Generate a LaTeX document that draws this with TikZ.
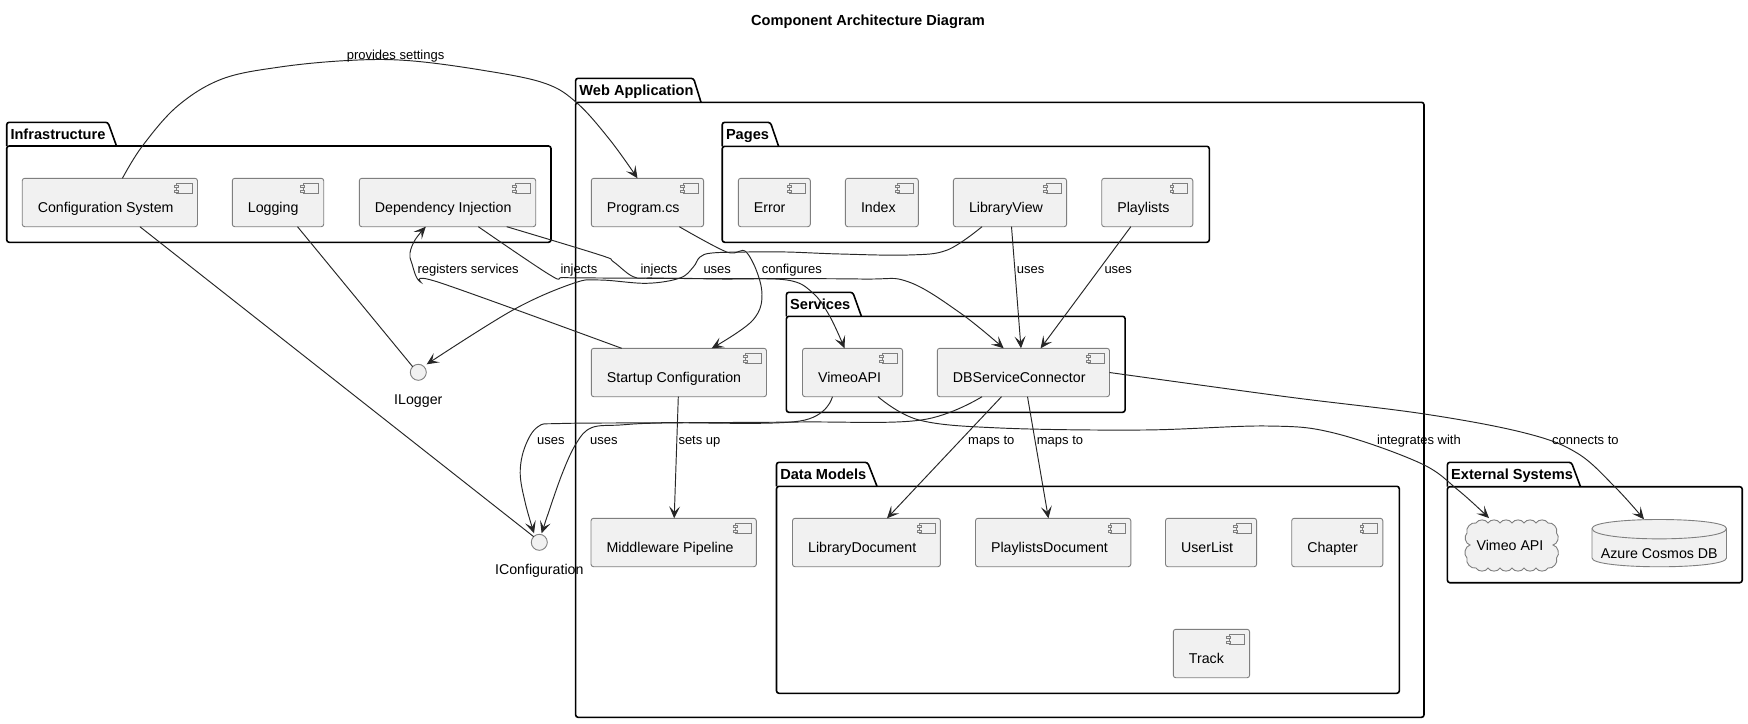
\documentclass[tikz,border=0pt]{standalone}
\usepackage{fontspec}
\setmainfont{Liberation Sans}
\usetikzlibrary{arrows.meta,calc}
\definecolor{boxfill}{HTML}{F1F1F1}
\definecolor{boxline}{HTML}{7F7F7F}
\definecolor{edgeline}{HTML}{262626}
\tikzset{
  compbox/.style={draw=boxline,fill=boxfill,line width=.9pt,rounded corners=2.5pt,inner sep=0pt,outer sep=0pt},
  iconpart/.style={draw=boxline,fill=boxfill,line width=.8pt},
  pkgbody/.style={draw=black,line width=1.6pt,rounded corners=2.5pt,inner sep=0pt,outer sep=0pt},
  pkgtab/.style={draw=black,line width=1.6pt,rounded corners=2.5pt},
  pkgtitle/.style={font=\fontsize{14.6}{18}\selectfont\bfseries,anchor=base west,inner sep=0pt},
  edgelabel/.style={font=\fontsize{13}{16}\selectfont,anchor=base west,inner sep=0pt},
  bare/.style={draw=edgeline,line width=.95pt},
  flow/.style={bare,-{Stealth[length=12pt,width=11pt,inset=5.5pt]}},
  iface/.style={circle,draw=boxline,fill=boxfill,line width=.9pt,minimum size=16pt,inner sep=0pt,outer sep=0pt},
  comptext/.style={font=\fontsize{14.2}{17}\selectfont},
  soft/.style={smooth,tension=0.6},
}
\newcommand{\compo}[6]{%
  \pgfmathsetmacro{\cw}{#4-#2}\pgfmathsetmacro{\ch}{#5-#3}%
  \pgfmathsetmacro{\cx}{(#4+#2)/2}\pgfmathsetmacro{\cy}{(#5+#3)/2}%
  \node[compbox,comptext,minimum width=\cw pt,minimum height=\ch pt] (#1) at (\cx,\cy)
    {\makebox[\cw pt][l]{\hspace{15.6pt}\raisebox{-10.2pt}[0pt][0pt]{#6}}};
  \draw[iconpart] ([shift={(-20.7pt,-5pt)}]#1.north east) rectangle ([shift={(-5pt,-15.4pt)}]#1.north east);
  \draw[iconpart] ([shift={(-22.9pt,-6.9pt)}]#1.north east) rectangle ([shift={(-19pt,-9.2pt)}]#1.north east);
  \draw[iconpart] ([shift={(-22.9pt,-11.7pt)}]#1.north east) rectangle ([shift={(-19pt,-14pt)}]#1.north east);
}
% name, left, tab top, tab top right, tab slant end, body top, right, bottom, title
\newcommand{\pkg}[9]{%
  \pgfmathsetmacro{\cw}{#7-#2}\pgfmathsetmacro{\ch}{#8-#6}%
  \pgfmathsetmacro{\cx}{(#7+#2)/2}\pgfmathsetmacro{\cy}{(#8+#6)/2}%
  \draw[pkgtab] (#2,#6) -- (#2,#3) -- (#4,#3) -- (#5,#6);
  \node[pkgbody,minimum width=\cw pt,minimum height=\ch pt] (#1) at (\cx,\cy) {};
  \pgfmathsetmacro{\tx}{#2+3.6}\pgfmathsetmacro{\ty}{#3+17.3}%
  \node[pkgtitle] (#1-title) at (\tx,\ty) {#9};
}
\begin{document}
\begin{tikzpicture}[x=1pt,y=-1pt]
\useasboundingbox (0,0) rectangle (1748,723);
\fill[white] (0,0) rectangle (1748,723);

\node[font=\fontsize{14.6}{18}\selectfont\bfseries,inner sep=0pt,anchor=base] (title) at (868,25) {Component Architecture Diagram};

% packages
\pkg{infra}{6.7}{122.3}{108}{116.5}{146}{551}{242.3}{Infrastructure}
\pkg{web}{575.6}{78.3}{693.6}{701}{102.3}{1424}{717.3}{Web Application}
\pkg{pages}{722.2}{122.3}{770.4}{778.6}{146.3}{1209.3}{242.3}{Pages}
\pkg{services}{786.4}{292.3}{852.8}{861.4}{316.3}{1125.1}{412.3}{Services}
\pkg{models}{776.5}{462.3}{867.6}{877}{486.3}{1399.3}{693.3}{Data Models}
\pkg{external}{1447.4}{462.3}{1571.4}{1580.5}{486.7}{1742.2}{582.7}{External Systems}

% components
\compo{cfg}{22.2}{178.3}{197.5}{226.7}{Configuration System}
\compo{log}{232.3}{178.3}{323.7}{226.7}{Logging}
\compo{di}{359.3}{178.3}{535.7}{226.7}{Dependency Injection}
\compo{prog}{591.3}{178.3}{703.6}{226.7}{Program.cs}
\compo{err}{738.3}{178.3}{810.3}{226.7}{Error}
\compo{idx}{845.4}{178.3}{918.3}{226.7}{Index}
\compo{lib}{953.4}{178.3}{1066.6}{226.7}{LibraryView}
\compo{pl}{1101.7}{178.3}{1192.8}{226.7}{Playlists}
\compo{st}{591.3}{348.3}{766.5}{396.7}{Startup Configuration}
\compo{vim}{802.5}{348.3}{902.6}{396.7}{VimeoAPI}
\compo{dbc}{937.3}{348.3}{1109.5}{396.7}{DBServiceConnector}
\compo{mw}{591}{518.3}{756.3}{566.7}{Middleware Pipeline}
\compo{libd}{792.5}{518.3}{940.4}{566.7}{LibraryDocument}
\compo{pld}{975.5}{518.3}{1130.8}{566.7}{PlaylistsDocument}
\compo{ul}{1165.5}{518.3}{1256.6}{566.7}{UserList}
\compo{ch}{1291.7}{518.3}{1382.8}{566.7}{Chapter}
\compo{tr}{1173.3}{629.3}{1249.6}{677.7}{Track}

% interfaces
\node[iface] (ilog) at (418.3,372.3) {};
\node[comptext,inner sep=0pt,anchor=base] (ilogl) at (418.3,404.5) {ILogger};
\node[iface] (icfg) at (539.3,542.3) {};
\node[comptext,inner sep=0pt,anchor=base] (icfgl) at (539.3,574.5) {IConfiguration};

% cloud
\draw[draw=boxline,fill=boxfill,line width=.9pt] (1476,523)
  foreach \qx/\qy in {1488/523,1500/523,1512/523,1524/523,1536/523,1548/523,1556.5/533,1553/545,1556.5/558,1548/568,1536/568,1524/568,1512/568,1500/568,1488/568,1476/568,1467/558,1470/545,1467/533,1476/523} { to[bend left=62] (\qx,\qy) } -- cycle;
\node[comptext,inner sep=0pt,minimum width=93pt,minimum height=54pt] (vapi) at (1510,545.3) {\raisebox{-1pt}{Vimeo API}};

% database
\draw[draw=boxline,fill=boxfill,line width=.9pt] (1592,528.5)
  .. controls (1592,516.5) and (1726.5,516.5) .. (1726.5,528.5)
  -- (1726.5,558) .. controls (1726.5,569.7) and (1592,569.7) .. (1592,558) -- cycle;
\draw[draw=boxline,line width=.9pt] (1592,528.5) .. controls (1592,542.3) and (1726.5,542.3) .. (1726.5,528.5);
\node[inner sep=0pt,minimum width=134.5pt,minimum height=47.4pt] (azure) at (1659.3,543) {};
\node[comptext,inner sep=0pt,anchor=base] (azurel) at (1659.3,558.7) {Azure Cosmos DB};

% connectors
\draw[flow] plot[soft] coordinates {(122.4,0 |- cfg.north) (142.4,146) (177.6,106) (222,79) (280,67) (347.7,60.5) (407,60.5) (481,70) (544,83) (577,103) (610,140) (637.5,0 |- prog.north)};
\draw[bare] (139.9,0 |- cfg.south) -- (icfg.north west);
\draw[bare] (297.5,0 |- log.south) -- (ilog.north west);
\draw[flow] plot[soft] coordinates {(982,0 |- lib.south) (947.3,250) (908.3,255) (840,254) (786.8,252) (746.7,252) (712,253) (700,257) (693.3,267) (680,278) (646.7,283.3) (600,280) (573.3,283.3) (513,310) (426.7,364.3)};
\draw[flow] plot[soft] coordinates {(679.3,0 |- prog.south) (726.7,252) (746.7,252.5) (761.7,290) (753,320) (711.7,0 |- st.north)};
\draw[flow] plot[soft] coordinates {(621.7,0 |- st.north) (440,282.7) (420,281.7) (411.7,263) (410,253) (415,240) (425.7,0 |- di.south)};
\draw[flow] plot[soft] coordinates {(478.3,0 |- di.south) (550,275) (563.3,277.5) (600,278) (700,278.5) (860,279) (908,281.7) (960.3,313) (1003.7,0 |- dbc.north)};
\draw[flow] plot[soft] coordinates {(506.7,0 |- di.south) (600,255) (613.3,261.7) (633.3,276.7) (653.3,278) (720,279) (786.8,280) (812.9,293) (830,316.7) (844.5,0 |- vim.north)};
\draw[flow] (1011.5,0 |- lib.south) -- (1021,0 |- dbc.north);
\draw[flow] (1130.8,0 |- pl.south) -- (1040.6,0 |- dbc.north);
\draw[flow] (678.3,0 |- st.south) -- (674.2,0 |- mw.north);
\draw[flow] plot[soft] coordinates {(832.4,0 |- vim.south) (800,421) (663,422.7) (561,423.5) (538,426.7) (525,446.7) (520.2,473) (525.3,503) (534,533.3)};
\draw[flow] plot[soft] coordinates {(982,0 |- dbc.south) (921.3,420) (800,422) (663,423) (620,425) (591.6,427.7) (576.3,443.3) (561,476.7) (541.6,533.3)};
\draw[flow] (1001.5,0 |- dbc.south) -- (887,0 |- libd.north);
\draw[flow] (1027.5,0 |- dbc.south) -- (1048.4,0 |- pld.north);
\draw[flow] plot[soft] coordinates {(878,0 |- vim.south) (919,420) (1000,428) (1143,430) (1267,426) (1334,433) (1420,463) (1458,490) (1489,0 |- vapi.north)};
\draw[flow] plot[soft] coordinates {(dbc.east) (1286,396.7) (1424.5,414) (1525,433) (1577,453) (1615,487) (1644,519.3)};

% connector labels
\node[edgelabel] (l1) at (346.6,59) {provides settings};
\node[edgelabel] (l2) at (417.3,273.3) {registers services};
\node[edgelabel] (l3) at (560.3,273.3) {injects};
\node[edgelabel] (l4) at (640.3,273.3) {injects};
\node[edgelabel] (l5) at (703.3,273.3) {uses};
\node[edgelabel] (l6) at (761.7,273.3) {configures};
\node[edgelabel] (l7) at (1016.7,273.3) {uses};
\node[edgelabel] (l8) at (1104.3,273.3) {uses};
\node[edgelabel] (l9) at (537,444) {uses};
\node[edgelabel] (l10) at (590,444) {uses};
\node[edgelabel] (l11) at (678.3,444) {sets up};
\node[edgelabel] (l12) at (968,444) {maps to};
\node[edgelabel] (l13) at (1036.7,444) {maps to};
\node[edgelabel] (l14) at (1376.8,444) {integrates with};
\node[edgelabel] (l15) at (1552,444) {connects to};
\end{tikzpicture}
\end{document}
